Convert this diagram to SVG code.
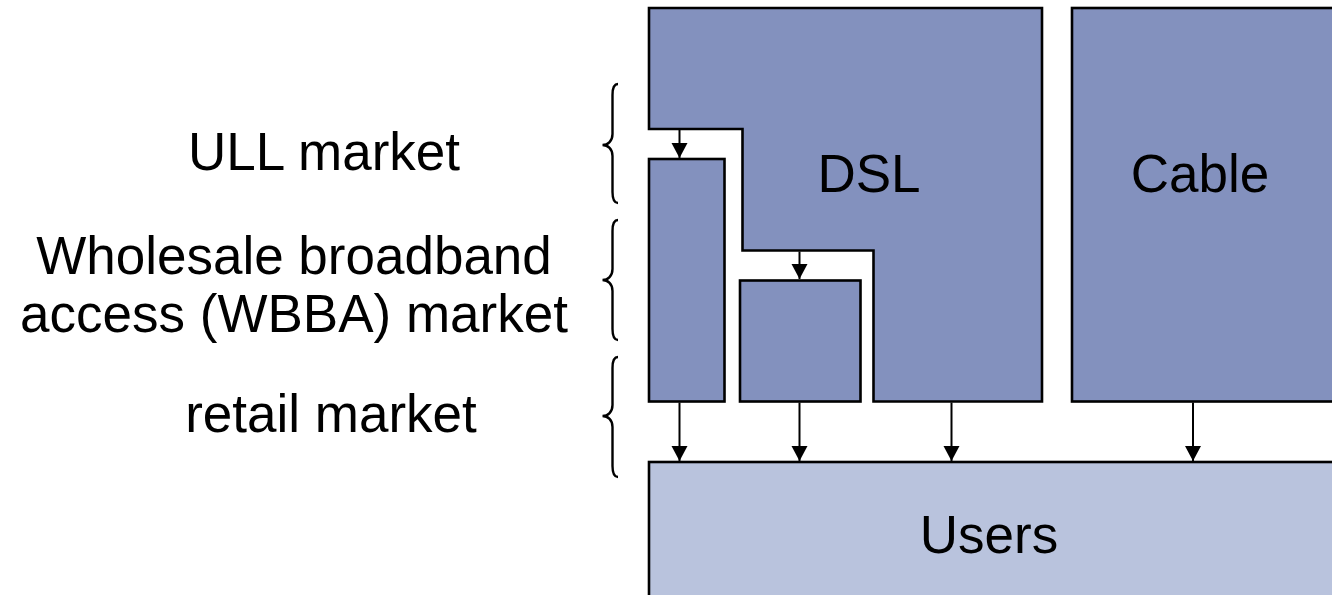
<svg xmlns="http://www.w3.org/2000/svg" width="1332" height="595" viewBox="0 0 1332 595">
<style>
.dark{fill:#8391BE;stroke:#000;stroke-width:2.6;}
.light{fill:#B9C3DD;stroke:#000;stroke-width:2.6;}
.lbl{font-family:"Liberation Sans",Arial,sans-serif;font-size:53px;fill:#000;text-anchor:middle;}
.conn{stroke:#000;stroke-width:2;fill:none;marker-end:url(#ah);}
.brace{stroke:#000;stroke-width:2.4;fill:none;}
</style>
<defs>
<marker id="ah" markerUnits="userSpaceOnUse" markerWidth="17" markerHeight="17" refX="15" refY="8" orient="auto" overflow="visible">
<path d="M0,0 L15,8 L0,16 z" fill="#000"/>
</marker>
</defs>
<rect width="1332" height="595" fill="#fff"/>
<g id="labels">
<text class="lbl" x="324" y="170">ULL market</text>
<text class="lbl" x="294" y="274">Wholesale broadband</text>
<text class="lbl" x="294" y="332">access (WBBA) market</text>
<text class="lbl" x="331" y="432">retail market</text>
</g>
<g id="braces">
<path class="brace" d="M618,84 C614,84 612.5,88 612.5,95 L612.5,134 C612.5,141 608,145 602.5,145 C608,145 612.5,149 612.5,156 L612.5,192 C612.5,199 614,203 618,203"/>
<path class="brace" d="M618,220 C614,220 612.5,224 612.5,231 L612.5,269 C612.5,276 608,280 602.5,280 C608,280 612.5,284 612.5,291 L612.5,329 C612.5,336 614,340 618,340"/>
<path class="brace" d="M618,357 C614,357 612.5,361 612.5,368 L612.5,405 C612.5,412 608,416 602.5,416 C608,416 612.5,420 612.5,427 L612.5,466 C612.5,473 614,477 618,477"/>
</g>
<g id="dsl">
<path class="dark" d="M649,8 L1042,8 L1042,401.5 L873.5,401.5 L873.5,250.5 L742.5,250.5 L742.5,129 L649,129 Z"/>
<text class="lbl" x="869" y="192">DSL</text>
</g>
<g id="ull">
<rect class="dark" x="649" y="159" width="75.5" height="242.5"/>
</g>
<g id="wbba">
<rect class="dark" x="740" y="280.5" width="120.5" height="121"/>
</g>
<g id="cable">
<rect class="dark" x="1072" y="8" width="275" height="393.5"/>
<text class="lbl" x="1200" y="192">Cable</text>
</g>
<g id="users">
<rect class="light" x="649" y="462" width="698" height="150"/>
<text class="lbl" x="989" y="553">Users</text>
</g>
<g id="connectors">
<line class="conn" x1="679.5" y1="130" x2="679.5" y2="158"/>
<line class="conn" x1="799.5" y1="251.5" x2="799.5" y2="279"/>
<line class="conn" x1="679.5" y1="402.5" x2="679.5" y2="461"/>
<line class="conn" x1="799.5" y1="402.5" x2="799.5" y2="461"/>
<line class="conn" x1="951.5" y1="402.5" x2="951.5" y2="461"/>
<line class="conn" x1="1193" y1="402.5" x2="1193" y2="461"/>
</g>
</svg>
